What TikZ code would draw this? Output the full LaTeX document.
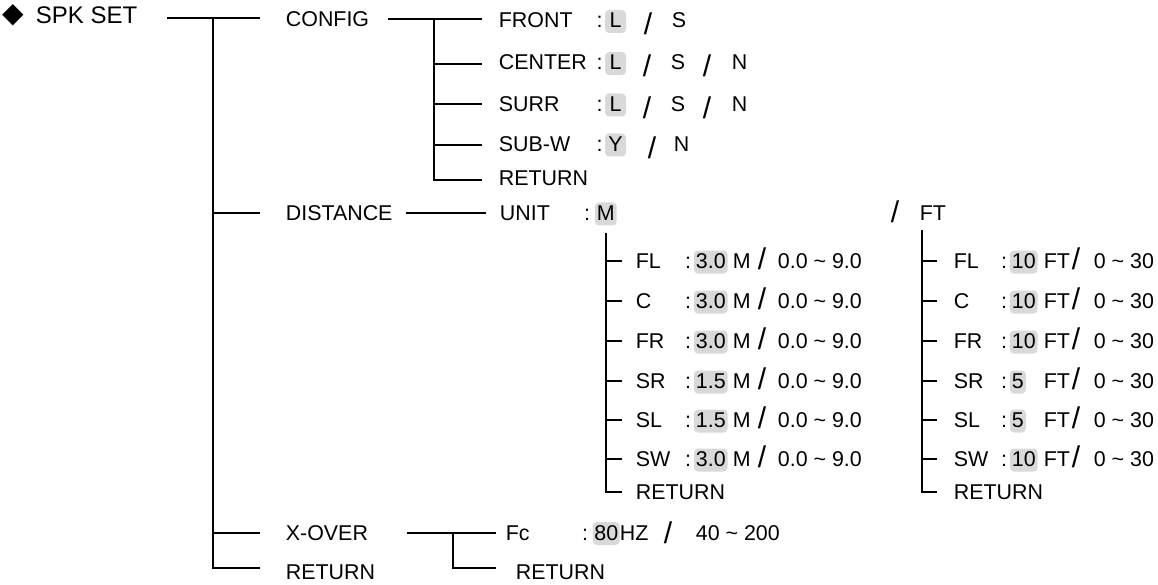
\documentclass[tikz,border=0pt]{standalone}
\usepackage{fontspec}
\setmainfont{Liberation Sans}
\newfontfamily\dejavu{DejaVu Sans}
\begin{document}
\begin{tikzpicture}[x=1pt,y=-1pt,
  line width=1.8pt,
  txt/.style={anchor=base west, inner sep=0pt, font=\fontsize{21.4}{24}\selectfont},
  ttl/.style={anchor=base west, inner sep=0pt, font=\fontsize{24}{28}\selectfont},
  dia/.style={anchor=center, inner sep=0pt, font=\dejavu\fontsize{28}{30}\selectfont},
  cln/.style={anchor=base, inner sep=0pt, font=\fontsize{21.4}{24}\selectfont},
  slsh/.style={anchor=center, inner sep=0pt, font=\fontsize{30}{32}\selectfont},
  hl/.style={anchor=base west, fill=black!15, rounded corners=4pt, inner xsep=2pt, inner ysep=2.5pt, text height=15.5pt, text depth=2.5pt, font=\fontsize{21.4}{24}\selectfont},
  hlc/.style={hl, anchor=base, minimum width=21pt},
]
\useasboundingbox (0,0) rectangle (1158,585);

% ---------- root ----------
\node[dia] (diam) at (13,15) {◆};
\node[ttl] (spk) at (35,24) {SPK SET};
\coordinate (a0) at (167,18); \coordinate (a1) at (213,18); \coordinate (a2) at (260,18);
\coordinate (a3) at (213,213); \coordinate (a4) at (260,213);
\coordinate (a5) at (213,533); \coordinate (a6) at (260,533);
\coordinate (a7) at (213,568); \coordinate (a8) at (260,568);
\draw (a0) -- (a2);
\draw (a1) -- (a7) -- (a8);
\draw (a3) -- (a4);
\draw (a5) -- (a6);

\node[txt] (cfg) at (285,26.5) {CONFIG};
\node[txt] (dist) at (285,220.5) {DISTANCE};
\node[txt] (xo) at (285,540) {X-OVER};
\node[txt] (ret0) at (285,579) {RETURN};

% ---------- CONFIG ----------
\coordinate (c0) at (388,19); \coordinate (c1) at (434,19); \coordinate (c2) at (482,19);
\coordinate (c3) at (434,64); \coordinate (c4) at (482,64);
\coordinate (c5) at (434,104); \coordinate (c6) at (482,104);
\coordinate (c7) at (434,145); \coordinate (c8) at (482,145);
\coordinate (c9) at (434,180); \coordinate (c10) at (482,180);
\draw (c0) -- (c2);
\draw (c1) -- (c9) -- (c10);
\draw (c3) -- (c4);
\draw (c5) -- (c6);
\draw (c7) -- (c8);

\node[txt] (front) at (498,28) {FRONT};
\node[cln] (frontc) at (599.5,28) {:};
\node[hlc] (frontv) at (615.5,28) {L};
\node[slsh] (fronts1) at (648,24) {/};
\node[txt] (fronto1) at (671,28) {S};

\node[txt] (center) at (498,70) {CENTER};
\node[cln] (centerc) at (599.5,70) {:};
\node[hlc] (centerv) at (615.5,70) {L};
\node[slsh] (centers1) at (647,66) {/};
\node[txt] (centero1) at (670,70) {S};
\node[slsh] (centers2) at (707,66) {/};
\node[txt] (centero2) at (731,70) {N};

\node[txt] (surr) at (498,111.5) {SURR};
\node[cln] (surrc) at (599.5,111.5) {:};
\node[hlc] (surrv) at (615.5,111.5) {L};
\node[slsh] (surrs1) at (647,107.5) {/};
\node[txt] (surro1) at (670,111.5) {S};
\node[slsh] (surrs2) at (707,107.5) {/};
\node[txt] (surro2) at (731,111.5) {N};

\node[txt] (subw) at (498,151.5) {SUB-W};
\node[cln] (subwc) at (599.5,151.5) {:};
\node[hlc] (subwv) at (615.5,151.5) {Y};
\node[slsh] (subws1) at (652,147.5) {/};
\node[txt] (subwo1) at (673,151.5) {N};

\node[txt] (ret1) at (498,185.5) {RETURN};

% ---------- DISTANCE ----------
\coordinate (d0) at (406,213); \coordinate (d1) at (486,213);
\draw (d0) -- (d1);
\node[txt] (unit) at (499,220.5) {UNIT};
\node[cln] (unitc) at (587,220.5) {:};
\node[hl] (unitm) at (594,220.5) {M};
\node[slsh] (units) at (895,212) {/};
\node[txt] (unitft) at (919,220.5) {FT};

% metre column
\coordinate (m0) at (606,233); \coordinate (m7) at (606,492); \coordinate (m7e) at (622,492);
\draw (m0) -- (m7) -- (m7e);
\foreach \n/\y/\lab/\val in {1/261/FL/3.0, 2/301/C/3.0, 3/341/FR/3.0, 4/381/SR/1.5, 5/420/SL/1.5, 6/459/SW/3.0}{
  \coordinate (m\n) at (606,\y); \coordinate (m\n e) at (622,\y);
  \draw (m\n) -- (m\n e);
  \node[txt] (ml\n) at (635,\y+7.5) {\lab};
  \node[cln] (mc\n) at (688,\y+7.5) {:};
  \node[hl] (mv\n) at (693,\y+7.5) {\val};
  \node[txt] (mu\n) at (732,\y+7.5) {M};
  \node[slsh] (ms\n) at (762,\y-2) {/};
  \node[txt] (mr\n) at (777,\y+7.5) {0.0 \char`\~{} 9.0};
}
\node[txt] (mret) at (635,499.5) {RETURN};

% feet column
\coordinate (f0) at (922,230); \coordinate (f7) at (922,492); \coordinate (f7e) at (937,492);
\draw (f0) -- (f7) -- (f7e);
\foreach \n/\y/\lab/\val in {1/261/FL/10, 2/301/C/10, 3/341/FR/10, 4/381/SR/5, 5/420/SL/5, 6/459/SW/10}{
  \coordinate (f\n) at (922,\y); \coordinate (f\n e) at (937,\y);
  \draw (f\n) -- (f\n e);
  \node[txt] (fl\n) at (953,\y+7.5) {\lab};
  \node[cln] (fc\n) at (1004,\y+7.5) {:};
  \node[hl] (fv\n) at (1009,\y+7.5) {\val};
  \node[txt] (fu\n) at (1043,\y+7.5) {FT};
  \node[slsh] (fs\n) at (1076,\y-2) {/};
  \node[txt] (fr\n) at (1093,\y+7.5) {0 \char`\~{} 30};
}
\node[txt] (fret) at (953,499.5) {RETURN};

% ---------- X-OVER ----------
\coordinate (x0) at (407,533); \coordinate (x1) at (453,533); \coordinate (x2) at (496,533);
\coordinate (x3) at (453,568); \coordinate (x4) at (496,568);
\draw (x0) -- (x2);
\draw (x1) -- (x3) -- (x4);
\node[txt] (fc) at (505,540) {Fc};
\node[cln] (fcc) at (585,540) {:};
\node[hl, inner xsep=1.5pt] (fcv) at (592,540) {80};
\node[txt] (fchz) at (619,540) {HZ};
\node[slsh] (fcs) at (668,533) {/};
\node[txt] (fcr) at (695,540) {40 \char`\~{} 200};
\node[txt] (ret2) at (515,579) {RETURN};
\end{tikzpicture}
\end{document}
